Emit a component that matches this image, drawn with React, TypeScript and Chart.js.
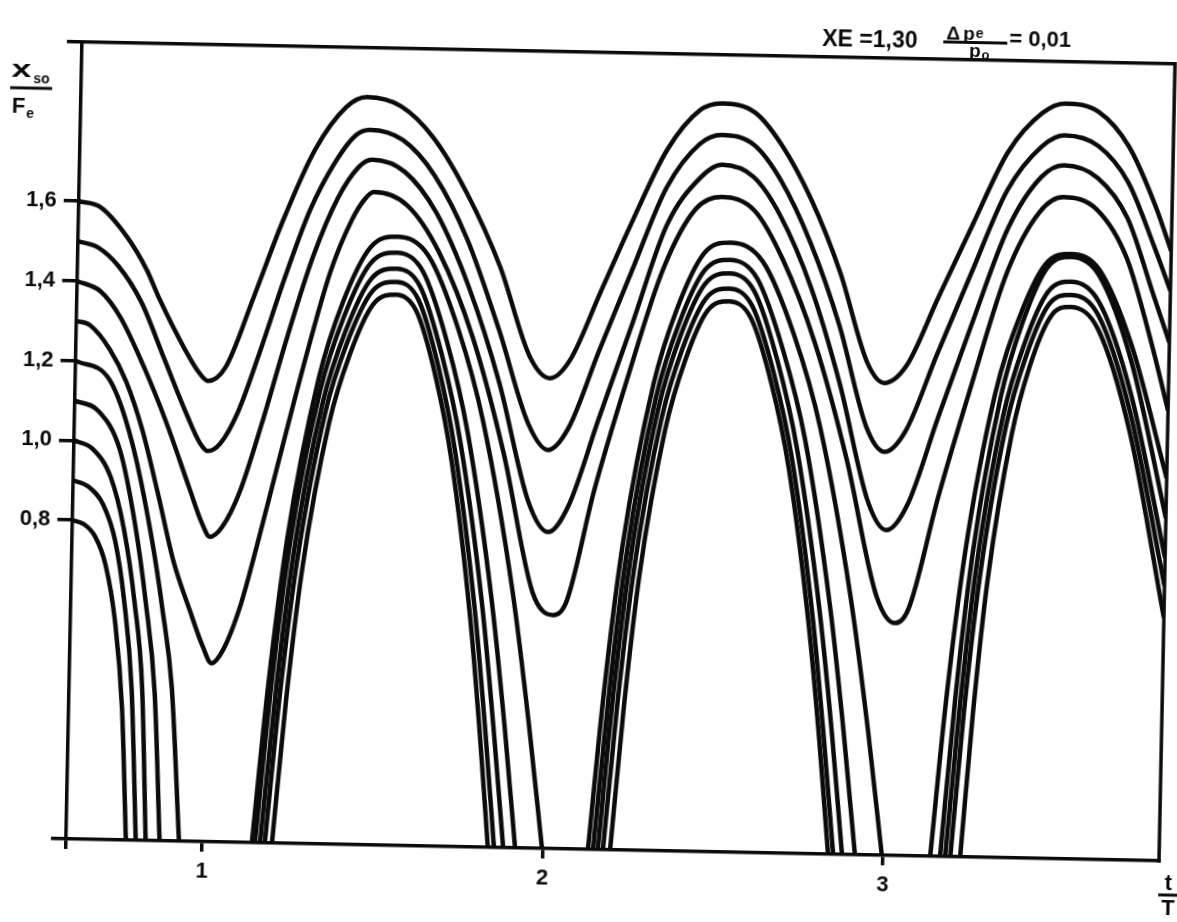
import { useEffect, useRef } from 'react';
import { Chart, registerables } from 'chart.js';

Chart.register(...registerables);

// ---- axis ranges and ticks (t/T horizontally, x_so/F_e vertically) ----
const T_MIN = 0.6;
const T_MAX = 3.81;
const V_MIN = 0;
const V_MAX = 2.0;
const X_TICKS = [0.6, 1, 2, 3];
const X_LABELED = [1, 2, 3];
const Y_TICKS = [0, 0.8, 1.0, 1.2, 1.4, 1.6, 2.0];
const Y_LABELED = [0.8, 1.0, 1.2, 1.4, 1.6];

// ---- upper family: start values 1.6, 1.5, 1.4, 1.3, oscillate without touching zero ----
const A1_T = [0.6, 0.663, 0.744, 0.804, 0.844, 0.921, 0.96, 0.99, 1.04, 1.12, 1.2, 1.29, 1.38, 1.44, 1.54, 1.636, 1.739, 1.841, 1.934, 1.994, 2.052, 2.136, 2.228, 2.324, 2.419, 2.482, 2.58, 2.658, 2.751, 2.84, 2.925, 2.975, 3.04, 3.128, 3.225, 3.325, 3.424, 3.49, 3.59, 3.68, 3.76, 3.81];
const A1_V = [1.6, 1.587, 1.513, 1.431, 1.357, 1.233, 1.18, 1.156, 1.19, 1.37, 1.56, 1.74, 1.85, 1.876, 1.855, 1.779, 1.64, 1.457, 1.232, 1.18, 1.227, 1.396, 1.581, 1.758, 1.86, 1.878, 1.857, 1.78, 1.64, 1.459, 1.234, 1.185, 1.23, 1.4, 1.585, 1.77, 1.87, 1.895, 1.875, 1.79, 1.645, 1.53];

const A2_T = [0.6, 0.66, 0.72, 0.79, 0.86, 0.93, 0.97, 0.994, 1.03, 1.08, 1.14, 1.21, 1.28, 1.35, 1.41, 1.451, 1.548, 1.643, 1.743, 1.841, 1.933, 1.992, 2.051, 2.135, 2.229, 2.325, 2.421, 2.485, 2.58, 2.66, 2.752, 2.841, 2.926, 2.98, 3.041, 3.128, 3.225, 3.325, 3.424, 3.49, 3.59, 3.68, 3.76, 3.81];
const A2_V = [1.5, 1.485, 1.44, 1.35, 1.21, 1.07, 1.0, 0.98, 1.0, 1.08, 1.23, 1.42, 1.59, 1.71, 1.78, 1.794, 1.77, 1.683, 1.524, 1.3, 1.064, 1.0, 1.056, 1.248, 1.456, 1.664, 1.776, 1.799, 1.775, 1.688, 1.53, 1.325, 1.072, 1.012, 1.066, 1.258, 1.466, 1.674, 1.786, 1.815, 1.79, 1.7, 1.54, 1.43];

const A3_T = [0.6, 0.67, 0.73, 0.8, 0.87, 0.94, 0.98, 1.005, 1.04, 1.09, 1.15, 1.22, 1.29, 1.36, 1.42, 1.459, 1.556, 1.65, 1.75, 1.846, 1.938, 1.997, 2.055, 2.139, 2.232, 2.328, 2.423, 2.486, 2.58, 2.66, 2.755, 2.845, 2.935, 2.99, 3.05, 3.135, 3.23, 3.33, 3.425, 3.49, 3.59, 3.68, 3.76, 3.81];
const A3_V = [1.4, 1.375, 1.31, 1.19, 1.05, 0.89, 0.8, 0.765, 0.79, 0.88, 1.05, 1.27, 1.47, 1.62, 1.7, 1.719, 1.69, 1.59, 1.405, 1.164, 0.868, 0.794, 0.86, 1.08, 1.32, 1.57, 1.69, 1.724, 1.695, 1.6, 1.42, 1.18, 0.885, 0.816, 0.88, 1.1, 1.34, 1.58, 1.71, 1.74, 1.71, 1.61, 1.42, 1.3];

const A4_T = [0.6, 0.64, 0.7, 0.75, 0.8, 0.85, 0.9, 0.95, 0.99, 1.017, 1.05, 1.097, 1.142, 1.2, 1.27, 1.342, 1.403, 1.44, 1.466, 1.565, 1.661, 1.764, 1.863, 1.956, 2.017, 2.055, 2.13, 2.22, 2.32, 2.41, 2.488, 2.585, 2.67, 2.77, 2.87, 2.965, 3.021, 3.06, 3.14, 3.23, 3.33, 3.42, 3.49, 3.59, 3.68, 3.76, 3.81];
const A4_V = [1.3, 1.29, 1.23, 1.15, 1.03, 0.87, 0.7, 0.58, 0.49, 0.448, 0.482, 0.59, 0.74, 0.95, 1.2, 1.433, 1.567, 1.62, 1.638, 1.606, 1.49, 1.28, 0.987, 0.64, 0.586, 0.62, 0.9, 1.18, 1.46, 1.61, 1.643, 1.61, 1.49, 1.28, 0.99, 0.65, 0.583, 0.62, 0.9, 1.18, 1.47, 1.62, 1.66, 1.63, 1.51, 1.29, 1.13];

// ---- lower family: start values 1.2 ... 0.8, fall to zero, then return as arches (null = resting at zero) ----
const L1_T = [0.6, 0.7, 0.77, 0.835, 0.87, 0.902, 0.932, 1.04,
  1.146, 1.185, 1.232, 1.315, 1.381, 1.46, 1.538, 1.63, 1.722, 1.8, 1.897, 1.952, 1.998, 2.06,
  2.133, 2.171, 2.217, 2.298, 2.363, 2.439, 2.516, 2.612, 2.708, 2.79, 2.89, 2.948, 2.996, 3.06,
  3.138, 3.176, 3.222, 3.301, 3.366, 3.442, 3.518, 3.6, 3.7, 3.81];
const L1_V = [1.2, 1.155, 1.0, 0.754, 0.58, 0.384, 0, null,
  0, 0.397, 0.764, 1.168, 1.359, 1.5, 1.527, 1.481, 1.298, 1.069, 0.641, 0.313, 0, null,
  0, 0.398, 0.765, 1.17, 1.361, 1.501, 1.529, 1.483, 1.3, 1.07, 0.642, 0.313, 0, null,
  0, 0.395, 0.759, 1.161, 1.351, 1.491, 1.518, 1.48, 1.29, 0.96];

const L2_T = [0.6, 0.67, 0.735, 0.785, 0.82, 0.852, 0.875, 1.0,
  1.155, 1.193, 1.239, 1.32, 1.385, 1.461, 1.538, 1.614, 1.69, 1.755, 1.835, 1.881, 1.919, 2.03,
  2.148, 2.185, 2.229, 2.306, 2.369, 2.442, 2.516, 2.596, 2.676, 2.746, 2.829, 2.877, 2.917, 3.04,
  3.167, 3.202, 3.244, 3.318, 3.378, 3.448, 3.518, 3.6, 3.7, 3.81];
const L2_V = [1.1, 1.075, 0.98, 0.79, 0.6, 0.37, 0, null,
  0, 0.387, 0.744, 1.138, 1.323, 1.46, 1.487, 1.442, 1.264, 1.041, 0.625, 0.305, 0, null,
  0, 0.386, 0.743, 1.137, 1.323, 1.459, 1.486, 1.441, 1.263, 1.04, 0.624, 0.305, 0, null,
  0, 0.393, 0.755, 1.155, 1.344, 1.483, 1.51, 1.465, 1.25, 0.86];

const L3_T = [0.6, 0.655, 0.71, 0.752, 0.787, 0.815, 0.834, 1.0,
  1.17, 1.207, 1.251, 1.328, 1.391, 1.464, 1.538, 1.607, 1.676, 1.735, 1.808, 1.849, 1.884, 2.02,
  2.162, 2.197, 2.24, 2.314, 2.374, 2.445, 2.516, 2.589, 2.661, 2.723, 2.799, 2.843, 2.879, 3.03,
  3.182, 3.216, 3.256, 3.326, 3.384, 3.451, 3.518, 3.6, 3.7, 3.81];
const L3_V = [1.0, 0.98, 0.91, 0.78, 0.6, 0.38, 0, null,
  0, 0.376, 0.724, 1.107, 1.288, 1.421, 1.447, 1.404, 1.23, 1.013, 0.608, 0.297, 0, null,
  0, 0.378, 0.726, 1.111, 1.292, 1.426, 1.452, 1.408, 1.234, 1.016, 0.61, 0.298, 0, null,
  0, 0.376, 0.724, 1.108, 1.289, 1.422, 1.448, 1.4, 1.17, 0.76];

const L4_T = [0.6, 0.645, 0.69, 0.727, 0.757, 0.784, 0.805, 1.0,
  1.184, 1.219, 1.262, 1.336, 1.396, 1.467, 1.538, 1.602, 1.666, 1.72, 1.787, 1.825, 1.857, 2.02,
  2.177, 2.211, 2.252, 2.323, 2.38, 2.448, 2.516, 2.583, 2.651, 2.709, 2.779, 2.819, 2.853, 3.03,
  3.197, 3.229, 3.268, 3.335, 3.39, 3.454, 3.518, 3.6, 3.7, 3.81];
const L4_V = [0.9, 0.885, 0.84, 0.75, 0.6, 0.38, 0, null,
  0, 0.368, 0.707, 1.082, 1.258, 1.389, 1.414, 1.372, 1.202, 0.99, 0.594, 0.29, 0, null,
  0, 0.368, 0.707, 1.082, 1.258, 1.389, 1.414, 1.372, 1.202, 0.99, 0.594, 0.29, 0, null,
  0, 0.368, 0.708, 1.082, 1.259, 1.39, 1.415, 1.365, 1.12, 0.69];

const L5_T = [0.6, 0.635, 0.668, 0.7, 0.731, 0.757, 0.776, 1.0,
  1.205, 1.238, 1.278, 1.348, 1.405, 1.471, 1.538, 1.598, 1.659, 1.71, 1.773, 1.809, 1.839, 2.02,
  2.198, 2.23, 2.268, 2.335, 2.389, 2.452, 2.516, 2.58, 2.645, 2.7, 2.767, 2.806, 2.838, 3.02,
  3.226, 3.255, 3.29, 3.352, 3.401, 3.46, 3.518, 3.6, 3.7, 3.81];
const L5_V = [0.8, 0.79, 0.76, 0.69, 0.55, 0.33, 0, null,
  0, 0.359, 0.691, 1.057, 1.23, 1.357, 1.382, 1.341, 1.175, 0.967, 0.58, 0.283, 0, null,
  0, 0.359, 0.691, 1.057, 1.23, 1.357, 1.382, 1.341, 1.175, 0.967, 0.58, 0.283, 0, null,
  0, 0.36, 0.693, 1.06, 1.233, 1.36, 1.385, 1.33, 1.07, 0.61];

const CURVES: [number[], (number | null)[]][] = [
  [A1_T, A1_V], [A2_T, A2_V], [A3_T, A3_V], [A4_T, A4_V],
  [L1_T, L1_V], [L2_T, L2_V], [L3_T, L3_V], [L4_T, L4_V], [L5_T, L5_V],
];

// ---- drawing constants ----
const INK = '#0b0b0b';
const FONT = '"Liberation Sans", Arial, sans-serif';
const CANVAS_W = 1217;
const CANVAS_H = 962;
const TILT_DEG = 1.15;

const toPoints = (ts: number[], vs: (number | null)[]) => ts.map((t, i) => ({ x: t, y: vs[i] }));
const comma = (v: number) => v.toFixed(1).replace('.', ',');

// frame (top and right edges) plus the header/axis annotations
const annotationPlugin = {
  id: 'annotations',
  afterDraw(chart: any) {
    const { ctx, chartArea: a } = chart;
    ctx.save();
    ctx.strokeStyle = INK;
    ctx.fillStyle = INK;
    ctx.lineWidth = 3.5;
    ctx.lineCap = 'square';
    ctx.beginPath();
    ctx.moveTo(a.left, a.top);
    ctx.lineTo(a.right, a.top);
    ctx.lineTo(a.right, a.bottom);
    ctx.stroke();

    ctx.lineCap = 'butt';
    ctx.textBaseline = 'alphabetic';
    ctx.textAlign = 'left';

    // vertical axis title: x_so / F_e
    ctx.save();
    ctx.translate(24, 109);
    ctx.scale(1.55, 1);
    ctx.font = `bold 23px ${FONT}`;
    ctx.fillText('x', 0, 0);
    ctx.restore();
    ctx.font = `bold 14px ${FONT}`;
    ctx.fillText('so', 46, 115);
    ctx.lineWidth = 3;
    ctx.beginPath();
    ctx.moveTo(23, 120);
    ctx.lineTo(65, 120);
    ctx.stroke();
    ctx.font = `bold 22px ${FONT}`;
    ctx.fillText('F', 25, 145);
    const fw = ctx.measureText('F').width;
    ctx.font = `bold 14px ${FONT}`;
    ctx.fillText('e', 25 + fw + 1, 150);

    // parameter header: XE = 1,30   Δp_e / p_o = 0,01
    ctx.font = `bold 23px ${FONT}`;
    ctx.fillText('XE =1,30', 834, 61.5);

    ctx.font = `bold 19px ${FONT}`;
    ctx.fillText('\u0394', 958, 52.5);
    const dw = ctx.measureText('\u0394').width;
    ctx.fillText('p', 958 + dw + 3, 52.5);
    const pw1 = ctx.measureText('p').width;
    ctx.font = `bold 14px ${FONT}`;
    ctx.fillText('e', 958 + dw + 3 + pw1 + 1, 51);
    ctx.beginPath();
    ctx.moveTo(955, 55.5);
    ctx.lineTo(1019, 55.5);
    ctx.stroke();
    ctx.font = `bold 19px ${FONT}`;
    ctx.fillText('p', 981, 70);
    const pw = ctx.measureText('p').width;
    ctx.font = `bold 13px ${FONT}`;
    ctx.fillText('o', 981 + pw + 1, 72);

    ctx.font = `bold 22px ${FONT}`;
    ctx.fillText('= 0,01', 1021, 58);

    // horizontal axis title: t / T
    ctx.textAlign = 'center';
    ctx.font = `bold 22px ${FONT}`;
    ctx.fillText('t', 1197, 899);
    ctx.beginPath();
    ctx.moveTo(1187, 904);
    ctx.lineTo(1208, 904);
    ctx.stroke();
    ctx.fillText('T', 1197, 924);
    ctx.restore();
  },
};

export default function App() {
  const canvasRef = useRef<HTMLCanvasElement | null>(null);

  useEffect(() => {
    const canvas = canvasRef.current;
    if (!canvas) return;

    const datasets = CURVES.map(([ts, vs]) => ({
      data: toPoints(ts, vs),
      borderColor: INK,
      borderWidth: 4.5,
      pointRadius: 0,
      fill: false,
      cubicInterpolationMode: 'monotone' as const,
      spanGaps: false,
    }));

    const tickFont = { family: FONT, size: 22, weight: 'bold' as const };

    const chart = new Chart(canvas, {
      type: 'line',
      data: { datasets },
      plugins: [annotationPlugin],
      options: {
        animation: false,
        responsive: false,
        devicePixelRatio: 1,
        layout: { padding: { left: 0, top: 72.8, right: 29.9, bottom: 0 } },
        plugins: { legend: { display: false }, tooltip: { enabled: false }, title: { display: false } },
        elements: { line: { capBezierPoints: true } },
        scales: {
          x: {
            type: 'linear',
            min: T_MIN,
            max: T_MAX,
            afterBuildTicks: (scale: any) => { scale.ticks = X_TICKS.map((value) => ({ value })); },
            afterFit: (scale: any) => { scale.height = CANVAS_H - 870; },
            border: { display: true, color: INK, width: 3.5 },
            grid: { display: true, drawOnChartArea: false, drawTicks: true, tickLength: 10, color: INK, lineWidth: 3.5 },
            ticks: {
              autoSkip: false,
              maxRotation: 0,
              padding: 7,
              color: INK,
              font: tickFont,
              callback: (v: any) => (X_LABELED.includes(Number(v)) ? String(v) : ''),
            },
          },
          y: {
            type: 'linear',
            min: V_MIN,
            max: V_MAX,
            afterBuildTicks: (scale: any) => { scale.ticks = Y_TICKS.map((value) => ({ value })); },
            afterFit: (scale: any) => { scale.width = 93.8; },
            border: { display: true, color: INK, width: 3.5 },
            grid: { display: true, drawOnChartArea: false, drawTicks: true, tickLength: 15, color: INK, lineWidth: 3.5 },
            ticks: {
              autoSkip: false,
              padding: 7,
              color: INK,
              font: tickFont,
              callback: (v: any) => (Y_LABELED.includes(Number(v)) ? comma(Number(v)) : ''),
            },
          },
        },
      },
    });

    return () => chart.destroy();
  }, []);

  return (
    <div style={{ position: 'fixed', left: 0, top: 0, width: '100vw', height: '100vh', overflow: 'hidden', background: '#fff' }}>
      <div
        style={{
          position: 'absolute',
          left: -20,
          top: -20,
          width: CANVAS_W,
          height: CANVAS_H,
          transform: `rotate(${TILT_DEG}deg)`,
          transformOrigin: '641px 472px',
        }}
      >
        <canvas ref={canvasRef} width={CANVAS_W} height={CANVAS_H} style={{ display: 'block', width: CANVAS_W, height: CANVAS_H }} />
      </div>
    </div>
  );
}
